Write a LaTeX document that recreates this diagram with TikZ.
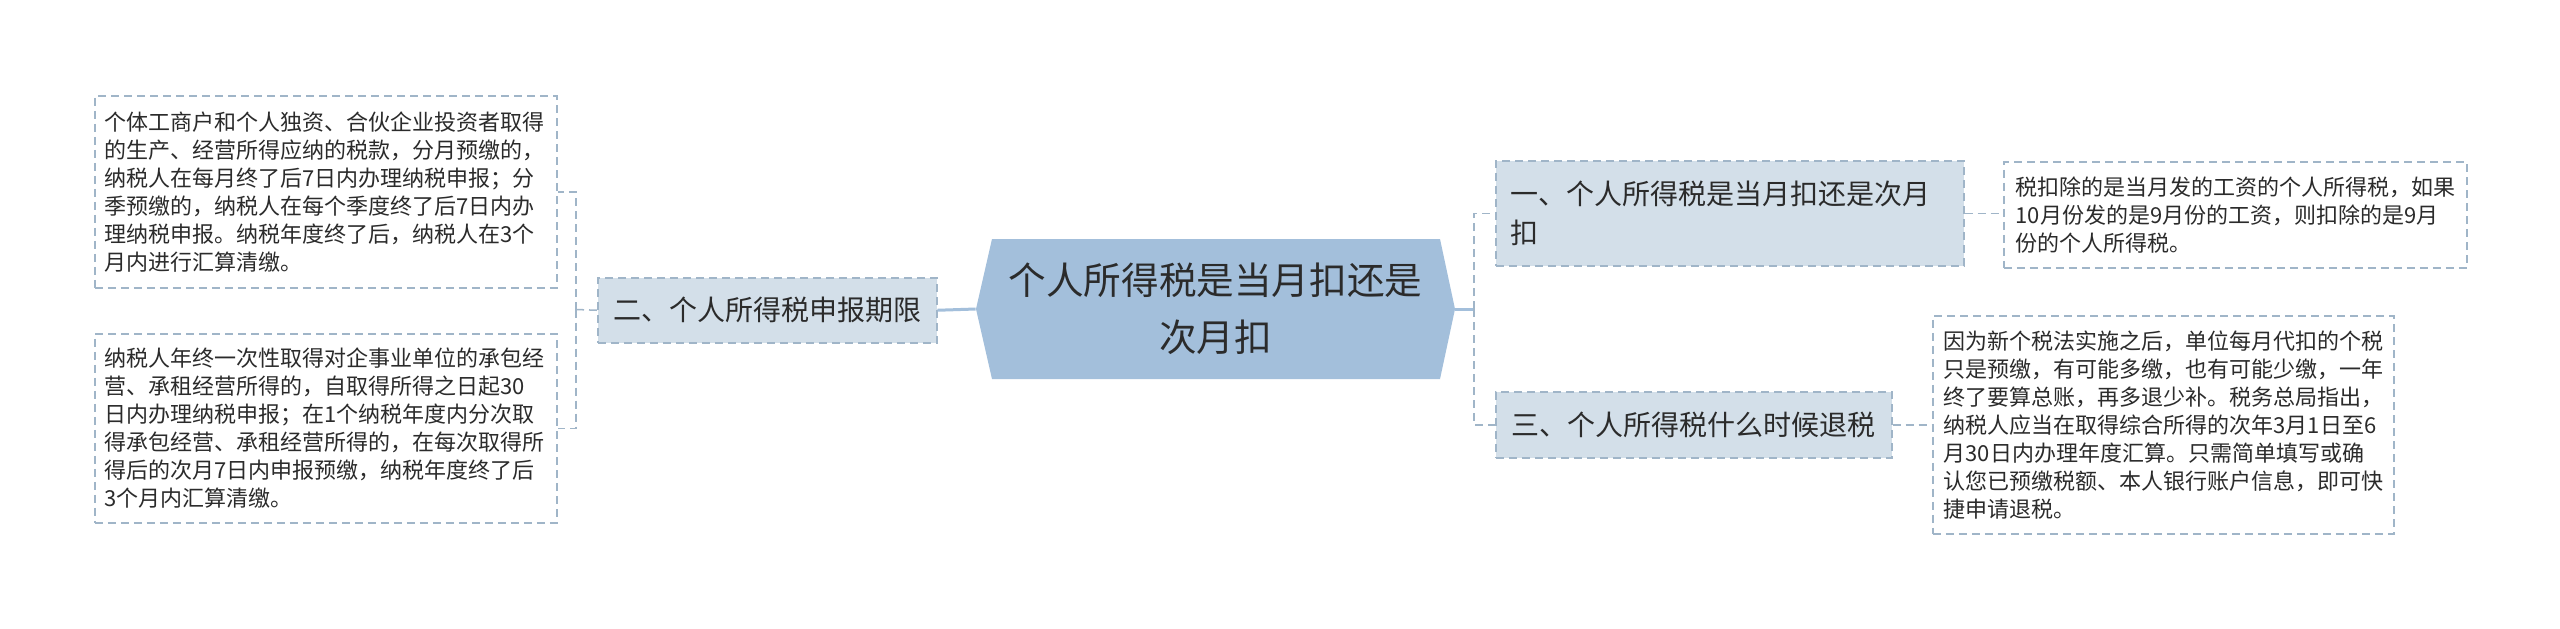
\documentclass[tikz,border=0pt]{standalone}
\usepackage{fontspec}
\setmainfont{Noto Sans CJK SC}
\definecolor{hexfill}{HTML}{A3BFDB}
\definecolor{boxfill}{HTML}{D3DFE9}
\definecolor{dashcol}{HTML}{A0B5C8}
\definecolor{txt}{HTML}{2B2B2B}
\tikzset{
  box/.style={anchor=north west, draw=dashcol, line width=0.75pt, dash pattern=on 4pt off 2.5pt, text=txt, inner ysep=0pt},
  leafL/.style={box, fill=white, align=left, inner xsep=5pt, text width=221pt, minimum width=231pt, font=\fontsize{11pt}{14pt}\selectfont},
  leafR/.style={box, fill=white, align=left, inner xsep=5.5pt, text width=219.5pt, minimum width=230.5pt, font=\fontsize{11pt}{14pt}\selectfont},
  mid/.style={box, fill=boxfill, font=\fontsize{14pt}{19.5pt}\selectfont},
  rootnode/.style={inner sep=0pt, minimum width=239.5pt, minimum height=70pt, align=center, text=txt, font=\fontsize{18.8pt}{28.5pt}\selectfont},
  sconn/.style={draw=hexfill, line width=1.5pt},
  dconn/.style={draw=dashcol, line width=0.75pt, dash pattern=on 4pt off 2.5pt}
}
\begin{document}
\begin{tikzpicture}[x=0.5pt, y=-0.5pt]
\useasboundingbox (0,0) rectangle (2560,628);
\fill[white] (0,0) rectangle (2560,628);
% central hexagon
\fill[hexfill] (976,309) -- (992,239) -- (1440,239) -- (1455,309) -- (1440,379) -- (992,379) -- cycle;
\node[rootnode] (root) at (1215.5,309) {个人所得税是当月扣还是\\次月扣};
% level 1
\node[mid, align=center, minimum width=169.5pt, minimum height=32.5pt, inner xsep=0pt] (n2) at (597,277) {二、个人所得税申报期限};
\node[mid, align=left, inner xsep=7.5pt, text width=219pt, minimum height=52.5pt] (n1) at (1495,160) {一、个人所得税是当月扣还是次月\\扣};
\node[mid, align=center, minimum width=198pt, minimum height=33pt, inner xsep=0pt] (n3) at (1495,391) {三、个人所得税什么时候退税};
% leaves
\node[leafL, minimum height=96pt] (L1) at (94,95) {个体工商户和个人独资、合伙企业投资者取得\\的生产、经营所得应纳的税款，分月预缴的，\\纳税人在每月终了后7日内办理纳税申报；分\\季预缴的，纳税人在每个季度终了后7日内办\\理纳税申报。纳税年度终了后，纳税人在3个\\月内进行汇算清缴。};
\node[leafL, minimum height=94.5pt] (L2) at (94,333) {纳税人年终一次性取得对企事业单位的承包经\\营、承租经营所得的，自取得所得之日起30\\日内办理纳税申报；在1个纳税年度内分次取\\得承包经营、承租经营所得的，在每次取得所\\得后的次月7日内申报预缴，纳税年度终了后\\3个月内汇算清缴。};
\node[leafR, inner xsep=6pt, text width=219.5pt, minimum width=231.5pt, minimum height=53pt] (R1) at (2003,161) {税扣除的是当月发的工资的个人所得税，如果\\10月份发的是9月份的工资，则扣除的是9月\\份的个人所得税。};
\node[leafR, minimum height=109pt] (R2) at (1932,315) {因为新个税法实施之后，单位每月代扣的个税\\只是预缴，有可能多缴，也有可能少缴，一年\\终了要算总账，再多退少补。税务总局指出，\\纳税人应当在取得综合所得的次年3月1日至6\\月30日内办理年度汇算。只需简单填写或确\\认您已预缴税额、本人银行账户信息，即可快\\捷申请退税。};
% junctions
\coordinate (lj) at (576,309.5);
\coordinate (rj) at (1474,309);
% connectors
\draw[sconn] (root.west) -- (n2.east);
\draw[dconn] (n2.west) -- (lj);
\draw[dconn] (lj) |- (L1.east);
\draw[dconn] (lj) |- (L2.east);
\draw[sconn] (root.east) -- (rj);
\draw[dconn] (rj) |- (n1.west);
\draw[dconn] (rj) |- (n3.west);
\draw[dconn] (n1.east) -- (n1.east -| R1.west);
\draw[dconn] (n3.east) -- (n3.east -| R2.west);
\end{tikzpicture}
\end{document}
